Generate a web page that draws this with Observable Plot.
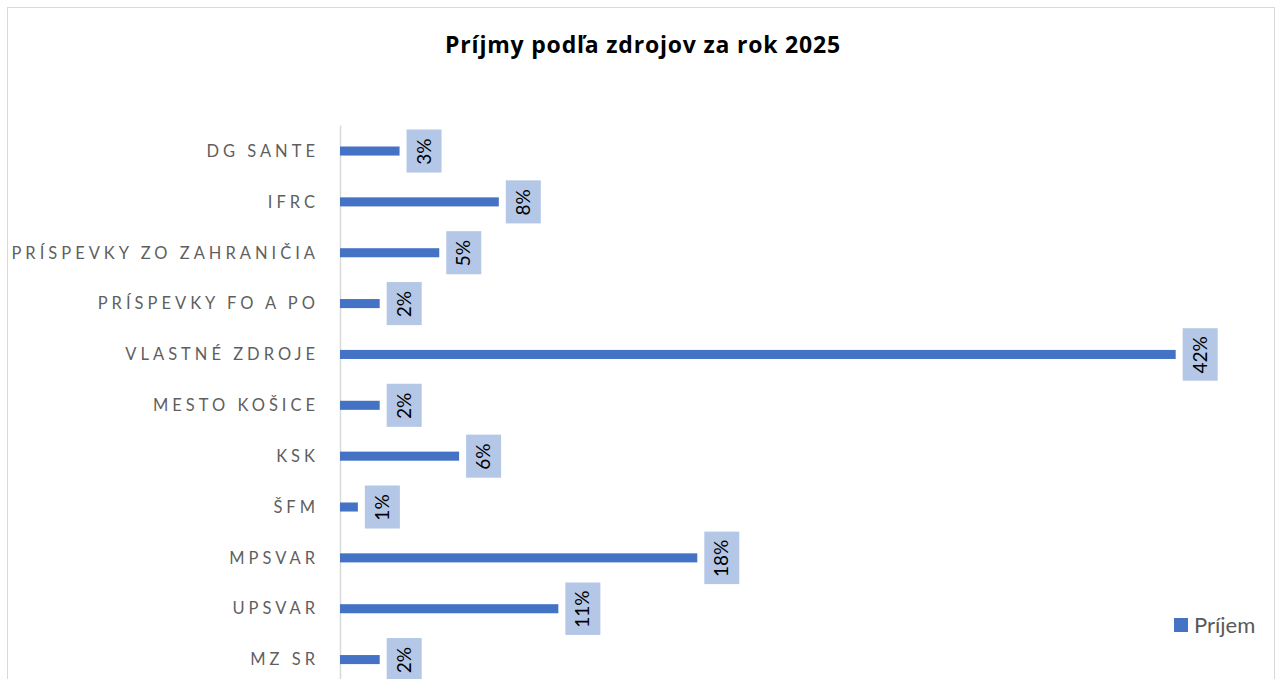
<!DOCTYPE html>
<html>
<head>
<meta charset="utf-8">
<script src="https://cdn.jsdelivr.net/npm/d3@7"></script>
<script src="https://cdn.jsdelivr.net/npm/@observablehq/plot@0.6"></script>
<style>
  html, body { margin: 0; padding: 0; width: 1280px; height: 679px; overflow: hidden; background: #fff; font-family: Lato, sans-serif; }
  #frame { position: absolute; left: 7px; top: 7px; width: 1268px; height: 720px; border: 1px solid #d9d9d9; box-sizing: border-box; }
  #title { position: absolute; left: 0; width: 1286px; top: 33px; text-align: center; font: bold 23px/1 "Open Sans", sans-serif; letter-spacing: 0.8px; color: #000; }
  #chart { position: absolute; left: 0; top: 0; }
  #chart svg { display: block; }
  #chart g[aria-label="y-axis tick label"] { letter-spacing: 4px; }
  #legend { position: absolute; left: 1174px; top: 614px; display: flex; align-items: center; font: 22px/1 Lato, sans-serif; color: #595959; }
  #legend .sw { width: 14px; height: 14px; background: #4472C4; margin-right: 6px; }
</style>
</head>
<body>
<div id="frame"></div>
<div id="title">Príjmy podľa zdrojov za rok 2025</div>
<div id="chart"></div>
<div id="legend"><div class="sw"></div><span>Príjem</span></div>
<script>
const categories = ["DG SANTE", "IFRC", "PRÍSPEVKY ZO ZAHRANIČIA", "PRÍSPEVKY FO A PO", "VLASTNÉ ZDROJE", "MESTO KOŠICE", "KSK", "ŠFM", "MPSVAR", "UPSVAR", "MZ SR"];
const values = [3.0, 8.0, 5.0, 2.0, 42.1, 2.0, 6.0, 0.9, 18.0, 11.0, 2.0];
const labels = ["3%", "8%", "5%", "2%", "42%", "2%", "6%", "1%", "18%", "11%", "2%"];

const data = categories.map((c, i) => ({c, v: values[i], label: labels[i]}));
const short = data.filter(d => d.label.length <= 2);
const long = data.filter(d => d.label.length > 2);

const chart = Plot.plot({
  width: 1280,
  height: 685,
  marginTop: 125.6,
  marginBottom: 0,
  marginLeft: 340,
  marginRight: 46.75,
  style: {fontFamily: "Lato, sans-serif", background: "transparent", overflow: "visible"},
  x: {domain: [0, 45], axis: null},
  y: {domain: categories, padding: 0, round: false, axis: null},
  marks: [
    Plot.axisY({tickSize: 0, tickPadding: 21.5, fontSize: 16.5, fill: "#5f5f5f", label: null}),
    Plot.ruleX([0], {stroke: "#d9d9d9", strokeWidth: 1.5}),
    Plot.barX(data, {x: "v", y: "c", fill: "#4472C4", insetTop: 20.9, insetBottom: 20.9}),
    Plot.barX(short, {x1: "v", x2: "v", y: "c", fill: "#B4C7E7", insetLeft: 7, insetRight: -42, insetTop: 3.9, insetBottom: 3.9}),
    Plot.barX(long, {x1: "v", x2: "v", y: "c", fill: "#B4C7E7", insetLeft: 7, insetRight: -42, insetTop: -0.8, insetBottom: -0.8}),
    Plot.text(data, {x: "v", y: "c", text: "label", rotate: -90, dx: 24.5, textAnchor: "middle", lineAnchor: "middle", fontSize: 19, fill: "#000"})
  ]
});
document.getElementById("chart").appendChild(chart);
</script>
</body>
</html>
